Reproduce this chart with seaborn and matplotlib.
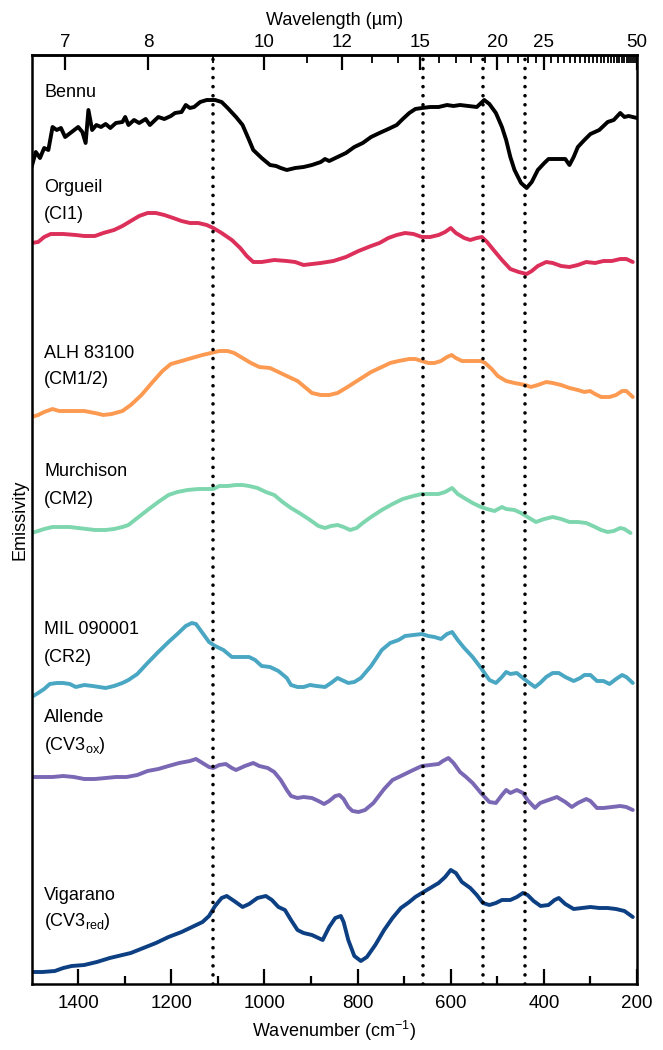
import numpy as np
import pandas as pd
import seaborn as sns
import matplotlib.pyplot as plt
from matplotlib import font_manager

# spectra (wavenumber in cm-1, stacked emissivity in arbitrary units)
bennu_wn = [1500, 1491, 1482, 1473, 1464, 1455, 1446, 1437, 1428, 1414, 1400, 1391, 1384, 1378, 1370, 1361, 1351, 1341, 1331, 1319,
            1305, 1299, 1292, 1280, 1269, 1255, 1246, 1228, 1215, 1201, 1192, 1178, 1169, 1160, 1151, 1138, 1124, 1106, 1092, 1079,
            1061, 1047, 1033, 1024, 1006, 988, 975, 965, 952, 934, 916, 898, 879, 870, 861, 843, 825, 807, 789, 771,
            753, 734, 716, 703, 689, 676, 662, 644, 626, 608, 594, 580, 562, 544, 528, 517, 503, 490, 481, 472,
            463, 449, 437, 426, 413, 399, 390, 372, 354, 345, 336, 327, 313, 300, 281, 263, 250, 236, 227, 218, 209, 200]
bennu_em = [8.17, 8.32, 8.26, 8.36, 8.34, 8.57, 8.54, 8.56, 8.47, 8.52, 8.57, 8.52, 8.41, 8.74, 8.54, 8.59, 8.57, 8.60, 8.56, 8.61,
            8.62, 8.67, 8.59, 8.64, 8.61, 8.65, 8.59, 8.67, 8.65, 8.68, 8.71, 8.72, 8.79, 8.76, 8.77, 8.82, 8.84, 8.84, 8.82, 8.76,
            8.67, 8.59, 8.44, 8.34, 8.26, 8.19, 8.18, 8.16, 8.14, 8.16, 8.17, 8.19, 8.22, 8.25, 8.23, 8.27, 8.31, 8.37, 8.41, 8.47,
            8.51, 8.55, 8.59, 8.65, 8.71, 8.75, 8.76, 8.77, 8.77, 8.79, 8.78, 8.79, 8.78, 8.77, 8.84, 8.80, 8.71, 8.57, 8.44, 8.27,
            8.14, 8.01, 7.96, 8.02, 8.14, 8.21, 8.25, 8.25, 8.25, 8.19, 8.27, 8.37, 8.44, 8.50, 8.54, 8.62, 8.64, 8.71, 8.67, 8.68, 8.67, 8.66]

orgueil_wn = [1500, 1486, 1473, 1459, 1432, 1405, 1387, 1364, 1346, 1323, 1305, 1287, 1269, 1251, 1233, 1215, 1196, 1178, 1160, 1142,
              1124, 1110, 1092, 1070, 1052, 1038, 1024, 1006, 979, 952, 934, 916, 898, 879, 852, 825, 798, 771, 753, 734,
              716, 698, 680, 662, 644, 626, 612, 600, 589, 571, 558, 544, 533, 522, 508, 490, 472, 454, 437, 426,
              413, 395, 381, 363, 345, 327, 309, 290, 272, 254, 236, 223, 209]
orgueil_em = [7.41, 7.42, 7.47, 7.50, 7.50, 7.49, 7.48, 7.48, 7.51, 7.54, 7.58, 7.63, 7.68, 7.71, 7.71, 7.69, 7.66, 7.63, 7.61, 7.61,
              7.59, 7.56, 7.51, 7.44, 7.36, 7.28, 7.22, 7.22, 7.24, 7.23, 7.22, 7.19, 7.20, 7.21, 7.23, 7.27, 7.33, 7.38, 7.41, 7.46,
              7.49, 7.51, 7.50, 7.47, 7.47, 7.49, 7.52, 7.56, 7.51, 7.46, 7.44, 7.46, 7.47, 7.42, 7.34, 7.24, 7.15, 7.12, 7.10, 7.13,
              7.18, 7.22, 7.21, 7.18, 7.17, 7.19, 7.22, 7.21, 7.23, 7.23, 7.25, 7.25, 7.22]

alh_wn = [1500, 1486, 1473, 1455, 1441, 1414, 1387, 1364, 1346, 1328, 1305, 1287, 1264, 1242, 1219, 1201, 1178, 1156, 1133, 1115,
          1097, 1079, 1065, 1047, 1029, 1011, 988, 970, 952, 929, 916, 898, 879, 861, 843, 825, 798, 771, 748, 730,
          712, 689, 676, 662, 648, 635, 621, 608, 598, 589, 576, 553, 535, 526, 512, 499, 481, 463, 440, 428,
          413, 395, 381, 363, 345, 327, 313, 301, 290, 277, 259, 245, 232, 223, 209]
alh_em = [5.67, 5.69, 5.72, 5.75, 5.73, 5.73, 5.73, 5.71, 5.69, 5.70, 5.73, 5.79, 5.89, 6.01, 6.13, 6.20, 6.23, 6.26, 6.29, 6.31,
          6.33, 6.33, 6.31, 6.26, 6.21, 6.17, 6.16, 6.12, 6.08, 6.03, 5.98, 5.91, 5.89, 5.89, 5.91, 5.96, 6.04, 6.12, 6.17, 6.21,
          6.23, 6.25, 6.25, 6.23, 6.21, 6.21, 6.23, 6.27, 6.29, 6.26, 6.23, 6.23, 6.23, 6.21, 6.15, 6.08, 6.03, 6.01, 5.99, 5.97,
          5.99, 6.02, 6.01, 5.99, 5.96, 5.94, 5.92, 5.93, 5.90, 5.87, 5.87, 5.89, 5.93, 5.93, 5.87]

murch_wn = [1500, 1486, 1473, 1455, 1437, 1418, 1400, 1382, 1364, 1341, 1323, 1305, 1292, 1273, 1251, 1228, 1206, 1187, 1165, 1142,
            1124, 1110, 1097, 1079, 1061, 1047, 1033, 1015, 997, 979, 961, 943, 925, 902, 884, 870, 857, 843, 830, 816,
            802, 789, 771, 748, 725, 703, 680, 662, 644, 626, 612, 597, 585, 571, 553, 535, 522, 506, 490, 481,
            463, 449, 435, 417, 399, 381, 363, 345, 327, 309, 290, 277, 263, 250, 236, 227, 214]
murch_em = [4.51, 4.53, 4.55, 4.57, 4.57, 4.57, 4.56, 4.55, 4.54, 4.54, 4.55, 4.57, 4.59, 4.66, 4.74, 4.82, 4.89, 4.92, 4.94, 4.95,
            4.95, 4.95, 4.98, 4.98, 4.99, 4.99, 4.98, 4.96, 4.92, 4.89, 4.82, 4.76, 4.71, 4.64, 4.58, 4.56, 4.58, 4.59, 4.57, 4.54,
            4.56, 4.61, 4.67, 4.74, 4.80, 4.85, 4.88, 4.90, 4.90, 4.90, 4.92, 4.96, 4.90, 4.86, 4.81, 4.77, 4.75, 4.73, 4.77, 4.75,
            4.74, 4.71, 4.67, 4.62, 4.65, 4.67, 4.65, 4.62, 4.62, 4.61, 4.57, 4.54, 4.52, 4.53, 4.56, 4.55, 4.51]

mil_wn = [1500, 1486, 1473, 1461, 1446, 1432, 1418, 1405, 1387, 1369, 1341, 1323, 1305, 1292, 1273, 1251, 1228, 1206, 1187, 1169,
          1156, 1147, 1133, 1119, 1106, 1088, 1070, 1052, 1033, 1020, 1006, 988, 970, 952, 943, 929, 916, 902, 888, 870,
          857, 843, 834, 820, 807, 793, 771, 748, 730, 712, 698, 680, 662, 648, 635, 621, 608, 597, 585, 571,
          553, 535, 517, 503, 490, 481, 472, 458, 445, 431, 419, 408, 395, 381, 368, 354, 336, 322, 313, 300,
          286, 272, 259, 245, 232, 223, 209]
mil_em = [2.87, 2.91, 2.95, 3.00, 3.01, 3.01, 3.00, 2.97, 2.99, 2.98, 2.96, 2.98, 3.01, 3.04, 3.10, 3.21, 3.32, 3.42, 3.50, 3.58,
          3.61, 3.60, 3.51, 3.42, 3.38, 3.34, 3.27, 3.27, 3.27, 3.24, 3.18, 3.17, 3.13, 3.06, 2.99, 2.97, 2.97, 2.99, 2.98, 2.97,
          3.01, 3.06, 3.04, 3.01, 3.02, 3.06, 3.18, 3.34, 3.41, 3.44, 3.48, 3.49, 3.50, 3.48, 3.47, 3.45, 3.50, 3.52, 3.44, 3.36,
          3.27, 3.16, 3.04, 3.01, 3.07, 3.12, 3.10, 3.11, 3.06, 3.01, 2.97, 3.01, 3.07, 3.11, 3.11, 3.07, 3.03, 3.06, 3.09, 3.09,
          3.03, 3.03, 3.00, 3.05, 3.09, 3.07, 3.01]

allende_wn = [1500, 1477, 1455, 1432, 1409, 1387, 1364, 1341, 1319, 1296, 1273, 1251, 1228, 1206, 1183, 1160, 1147, 1133, 1119, 1110,
              1097, 1083, 1070, 1061, 1042, 1024, 1011, 993, 979, 965, 952, 943, 929, 916, 898, 884, 872, 861, 848, 839,
              830, 820, 811, 798, 784, 766, 743, 725, 707, 685, 662, 644, 626, 617, 605, 594, 580, 567, 553, 535,
              517, 503, 490, 481, 472, 458, 445, 435, 419, 408, 390, 372, 354, 340, 327, 309, 300, 286, 272, 254,
              236, 223, 209]
allende_em = [2.07, 2.07, 2.07, 2.08, 2.07, 2.05, 2.05, 2.06, 2.07, 2.07, 2.09, 2.13, 2.15, 2.18, 2.21, 2.23, 2.25, 2.21, 2.17, 2.16,
              2.19, 2.20, 2.16, 2.14, 2.18, 2.21, 2.18, 2.16, 2.12, 2.04, 1.94, 1.88, 1.86, 1.87, 1.86, 1.83, 1.80, 1.83, 1.88, 1.89,
              1.85, 1.77, 1.73, 1.72, 1.74, 1.81, 1.95, 2.04, 2.08, 2.13, 2.18, 2.19, 2.20, 2.23, 2.26, 2.21, 2.12, 2.07, 2.01, 1.91,
              1.82, 1.81, 1.89, 1.94, 1.91, 1.94, 1.91, 1.84, 1.76, 1.81, 1.84, 1.87, 1.82, 1.77, 1.81, 1.85, 1.83, 1.76, 1.76, 1.77,
              1.78, 1.77, 1.74]

vig_wn = [1500, 1477, 1450, 1432, 1414, 1387, 1360, 1332, 1305, 1287, 1260, 1233, 1206, 1178, 1151, 1133, 1119, 1106, 1092, 1081,
          1065, 1047, 1033, 1015, 997, 984, 970, 956, 943, 929, 916, 898, 875, 861, 848, 836, 830, 820, 807, 793,
          780, 762, 743, 725, 707, 689, 676, 662, 644, 626, 612, 600, 589, 576, 558, 544, 531, 517, 503, 490,
          472, 458, 445, 435, 422, 407, 390, 377, 368, 354, 336, 318, 300, 281, 263, 245, 227, 209]
vig_em = [0.12, 0.12, 0.13, 0.16, 0.18, 0.19, 0.22, 0.26, 0.29, 0.31, 0.36, 0.41, 0.47, 0.52, 0.58, 0.62, 0.68, 0.78, 0.86, 0.88,
          0.83, 0.77, 0.80, 0.86, 0.88, 0.84, 0.77, 0.74, 0.64, 0.54, 0.51, 0.49, 0.44, 0.57, 0.66, 0.68, 0.62, 0.44, 0.28, 0.23,
          0.27, 0.39, 0.54, 0.66, 0.76, 0.82, 0.87, 0.91, 0.96, 1.01, 1.07, 1.14, 1.11, 1.02, 0.96, 0.89, 0.81, 0.79, 0.81, 0.84,
          0.84, 0.87, 0.91, 0.89, 0.83, 0.78, 0.79, 0.84, 0.86, 0.80, 0.75, 0.76, 0.77, 0.76, 0.76, 0.75, 0.73, 0.67]

names = ['Bennu', 'Orgueil', 'ALH 83100', 'Murchison', 'MIL 090001', 'Allende', 'Vigarano']
types = ['', '(CI1)', '(CM1/2)', '(CM2)', '(CR2)', '(CV3$_{\\rm ox}$)', '(CV3$_{\\rm red}$)']
colors = ['#000000', '#dc2f5a', '#fd9a52', '#7dd6ae', '#4aa7c3', '#7a68b5', '#0d3f83']
label_y = [8.91, 7.96, 6.31, 5.12, 3.54, 2.66, 0.89]
band_wn = [1110, 660, 530, 440]
top_major = [7, 8, 10, 12, 15, 20, 25, 50]

wns = [bennu_wn, orgueil_wn, alh_wn, murch_wn, mil_wn, allende_wn, vig_wn]
ems = [bennu_em, orgueil_em, alh_em, murch_em, mil_em, allende_em, vig_em]

frames = []
for n, w, e in zip(names, wns, ems):
    frames.append(pd.DataFrame({'wavenumber': w, 'emissivity': e, 'sample': n}))
df = pd.concat(frames, ignore_index=True)

sns.set_style('ticks', {'axes.edgecolor': 'black', 'text.color': 'black',
                        'xtick.color': 'black', 'ytick.color': 'black', 'axes.labelcolor': 'black'})
avail = {f.name for f in font_manager.fontManager.ttflist}
fam = 'Liberation Sans Narrow' if 'Liberation Sans Narrow' in avail else 'Liberation Sans'
plt.rcParams['font.family'] = [fam, 'DejaVu Sans']
plt.rcParams['mathtext.fontset'] = 'custom'
plt.rcParams['mathtext.rm'] = fam
plt.rcParams['mathtext.it'] = fam
fs = 13

fig = plt.figure(figsize=(6.63, 10.5), dpi=100)
ax = fig.add_axes([31.6 / 663, 66 / 1050, 605.4 / 663, 929 / 1050])

sns.lineplot(data=df, x='wavenumber', y='emissivity', hue='sample', palette=colors,
             hue_order=names, estimator=None, linewidth=2.8, legend=False, ax=ax)

# band positions
for b in band_wn:
    ax.axvline(b, color='black', lw=2.6, ls=(0, (0.01, 2.5)), dash_capstyle='round', zorder=5)

ax.set_xlim(1500, 200)
ax.set_ylim(0, 9.29)
ax.set_yticks([])
ax.set_xticks([1400, 1200, 1000, 800, 600, 400, 200])
ax.set_xticks([1300, 1100, 900, 700, 500, 300], minor=True)
ax.tick_params(axis='x', which='major', direction='in', length=11, width=1.6, labelsize=13.5, pad=8)
ax.tick_params(axis='x', which='minor', direction='in', length=5.5, width=1.6)
for s in ax.spines.values():
    s.set_linewidth(1.8)
    s.set_color('black')

ax.set_xlabel('Wavenumber (cm$^{-1}$)', fontsize=fs, labelpad=5)
ax.set_ylabel('Emissivity', fontsize=fs, labelpad=2)

top = ax.secondary_xaxis('top', functions=(lambda x: 1e4 / np.asarray(x, float), lambda x: 1e4 / np.asarray(x, float)))
top.set_xticks(top_major)
top.set_xticklabels([str(t) for t in top_major])
top.set_xticks([t for t in range(7, 50) if t not in top_major], minor=True)
top.tick_params(axis='x', which='major', direction='in', length=11, width=1.6, labelsize=13.5, pad=3, colors='black')
top.tick_params(axis='x', which='minor', direction='in', length=5.5, width=1.3, colors='black')
top.spines['top'].set_linewidth(1.8)
top.spines['top'].set_color('black')
top.set_xlabel('Wavelength (µm)', fontsize=fs, labelpad=6)

for n, t, y in zip(names, types, label_y):
    ax.text(1473, y, n, fontsize=fs, va='center', ha='left')
    if t:
        ax.text(1473, y - 0.27, t, fontsize=fs, va='center', ha='left')

fig.savefig('out.png', dpi=100)
